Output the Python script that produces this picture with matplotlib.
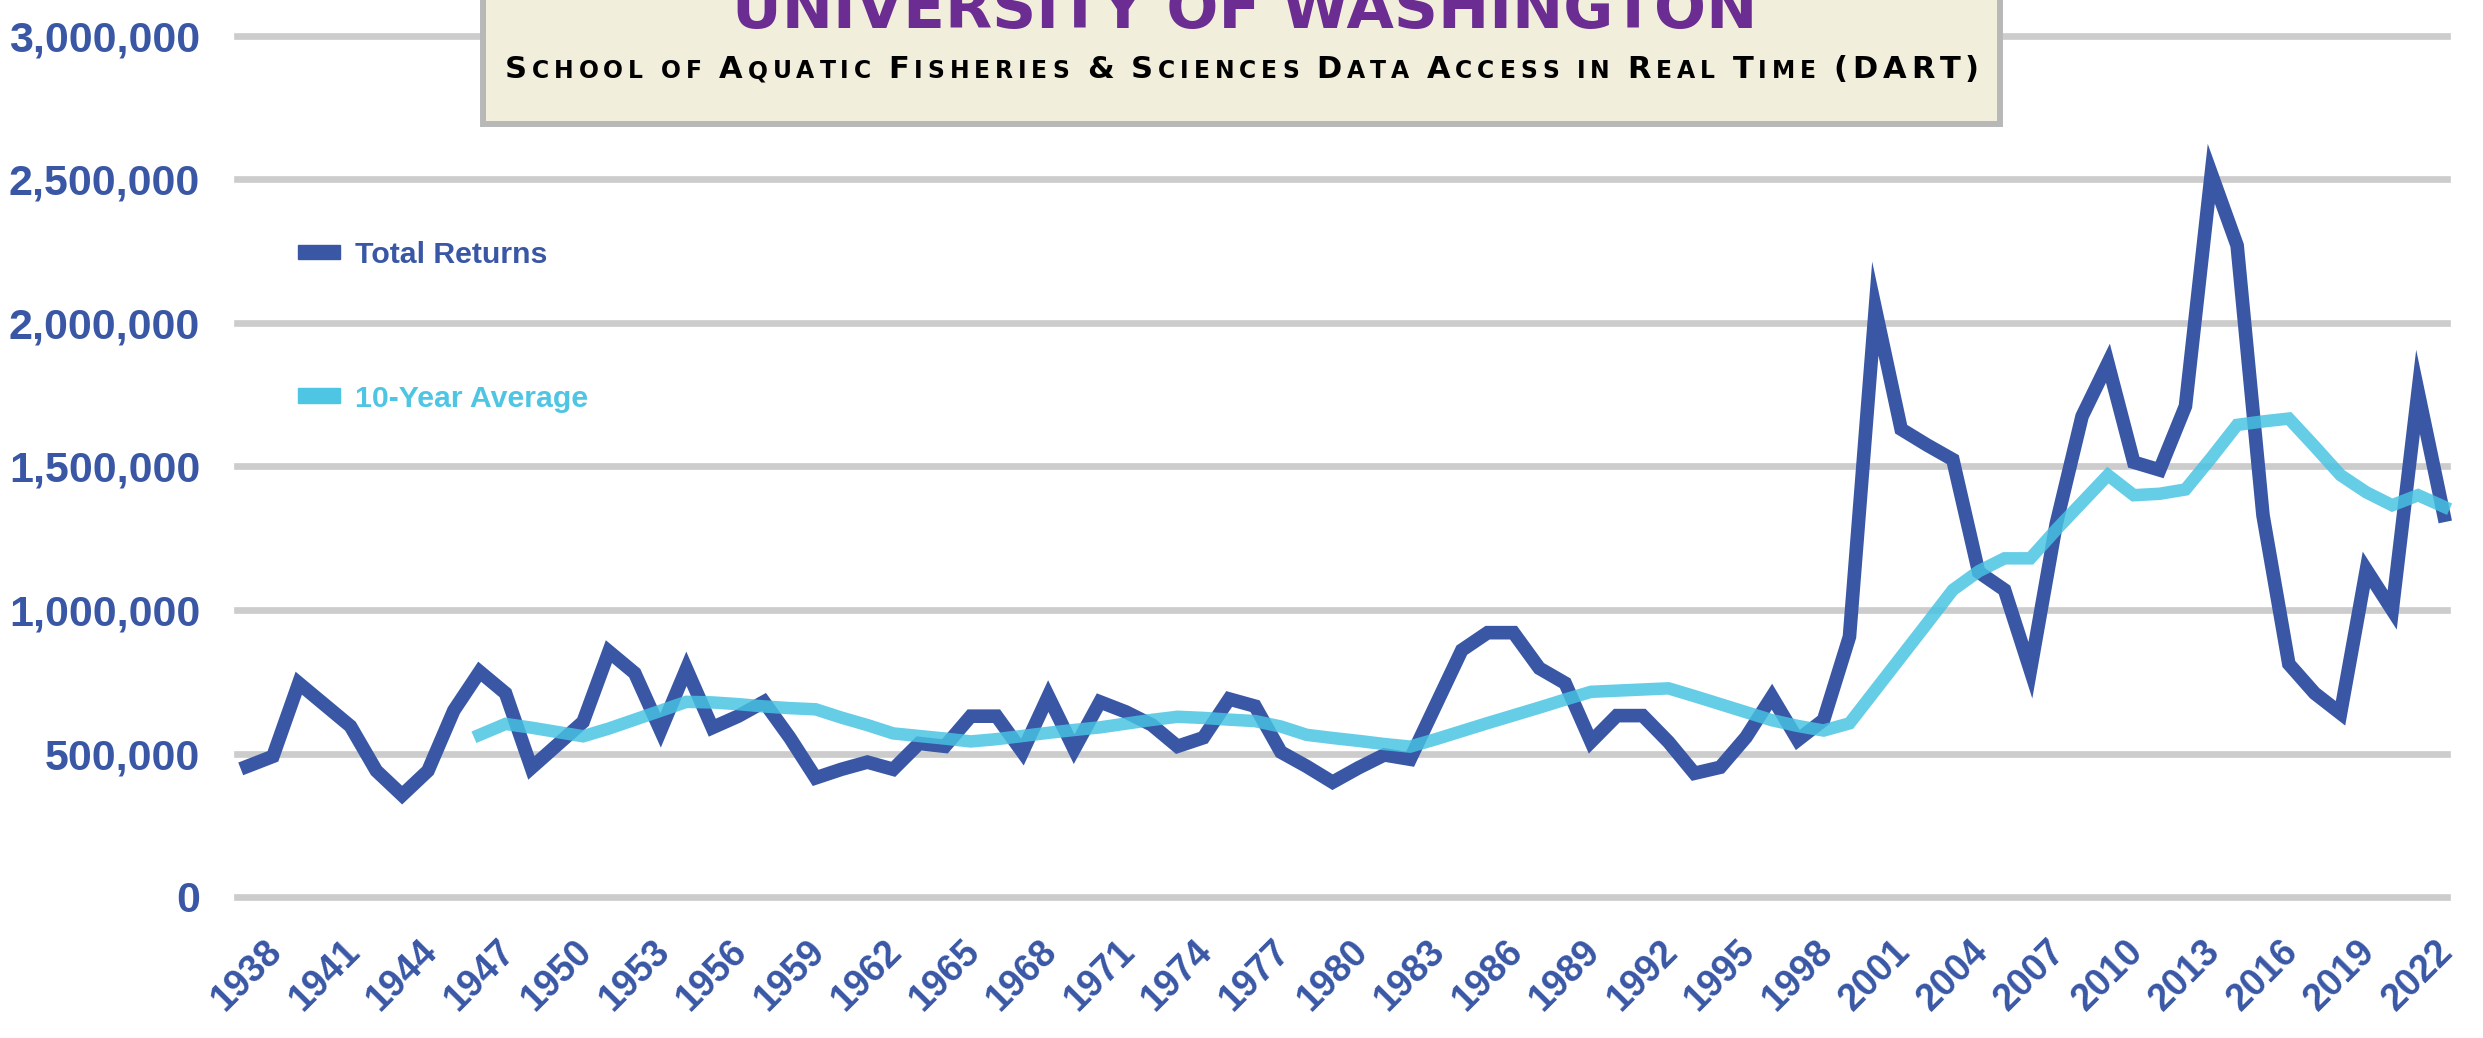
import matplotlib
matplotlib.use("Agg")
import matplotlib.pyplot as plt
from matplotlib.patches import Rectangle

# data
years = list(range(1938, 2024))
total_returns = [
    455000, 490000, 745000, 670000, 595000, 440000, 355000, 440000, 650000, 785000,
    710000, 450000, 530000, 610000, 855000, 780000, 580000, 795000, 590000, 630000,
    680000, 555000, 415000, 445000, 470000, 445000, 535000, 525000, 630000, 630000,
    505000, 700000, 515000, 680000, 645000, 600000, 525000, 555000, 690000, 665000,
    505000, 455000, 400000, 450000, 495000, 480000, 670000, 860000, 921000, 921000,
    797000, 745000, 541000, 632000, 632000, 540000, 431000, 452000, 557000, 698000,
    547000, 617000, 907000, 2050000, 1630000, 1575000, 1524000, 1132000, 1070000, 790000,
    1300000, 1675000, 1860000, 1515000, 1488000, 1710000, 2520000, 2270000, 1330000, 812000,
    710000, 640000, 1140000, 1000000, 1760000, 1330000,
]
avg_years = list(range(1947, 2024))
ten_year_avg = [
    565000, 603000, 590000, 575000, 560000, 587000, 618000, 649000, 680000, 678000,
    672000, 664000, 658000, 654000, 625000, 599000, 570000, 561000, 552000, 542000,
    550000, 561000, 572000, 582000, 591000, 604000, 617000, 628000, 624000, 618000,
    613000, 594000, 565000, 554000, 544000, 533000, 524000, 550000, 578000, 606000,
    633000, 660000, 688000, 715000, 719000, 723000, 727000, 700000, 672000, 644000,
    616000, 596000, 580000, 605000, 721000, 837000, 953000, 1070000, 1135000, 1180000,
    1180000, 1280000, 1375000, 1470000, 1400000, 1405000, 1420000, 1530000, 1645000, 1657000,
    1667000, 1570000, 1470000, 1410000, 1365000, 1400000, 1360000,
]
tick_years = list(range(1938, 2023, 3))
y_ticks = list(range(0, 3000001, 500000))

title = "UNIVERSITY OF WASHINGTON"
subtitle = "School of Aquatic Fisheries & Sciences Data Access in Real Time (DART)"
legend_labels = ["Total Returns", "10-Year Average"]

DARK = "#3957a5"
CYAN = "#47c3e3"
PURPLE = "#6b2d91"

W, H = 2483, 1038
fig = plt.figure(figsize=(W / 100, H / 100), dpi=100)

def fx(x):
    return x / W

def fy(y):
    return 1 - y / H

ax = fig.add_axes([fx(237), fy(897), fx(2447) - fx(237), fy(36) - fy(897)])
ax.plot(years, total_returns, color=DARK, lw=9.8, solid_joinstyle="miter",
        solid_capstyle="projecting", zorder=3, clip_on=False)
ax.plot(avg_years, ten_year_avg, color=CYAN, alpha=0.83, lw=9.0, solid_joinstyle="miter",
        solid_capstyle="projecting", zorder=4, clip_on=False)
ax.set_xlim(1937.61, 2023.12)
ax.set_ylim(0, 3000000)

ax.set_yticks(y_ticks)
ax.set_yticklabels([f"{v:,}" for v in y_ticks], fontfamily="Liberation Sans",
                   fontweight="bold", fontsize=31, color=DARK)
ax.set_xticks(tick_years)
ax.set_xticklabels([str(y) for y in tick_years], rotation=45, fontfamily="Liberation Sans",
                   fontweight="bold", fontsize=27, color=DARK)
ax.tick_params(axis="y", length=0, pad=26.6)
ax.tick_params(axis="x", length=0, pad=26)

ax.grid(axis="y", color="#cccccc", lw=4.8)
ax.grid(axis="x", visible=False)
ax.set_axisbelow(True)
for g in ax.get_ygridlines():
    g.set_clip_on(False)
for s in ax.spines.values():
    s.set_visible(False)

# title box
fig.add_artist(Rectangle((fx(483), fy(124)), fx(2000) - fx(483), fy(-30) - fy(124),
                         transform=fig.transFigure, facecolor="#f2eedc",
                         edgecolor="#b8b8b8", lw=4.3, zorder=5))

renderer = fig.canvas.get_renderer()
t = fig.text(fx(1244.5), fy(28), title, ha="center", va="baseline", color=PURPLE,
             fontsize=44, fontweight="bold", family="DejaVu Sans", zorder=6)
w = t.get_window_extent(renderer).width
t.set_fontsize(44 * 1027 / w)

# small caps subtitle, spread to the box width
big = 22
pieces = []
for ch in subtitle:
    if ch == " ":
        pieces.append(None)
    elif ch.islower():
        pieces.append(fig.text(0, fy(78), ch.upper(), va="baseline", color="black",
                               fontsize=big * 0.77, fontweight="bold",
                               family="DejaVu Sans", zorder=6))
    else:
        pieces.append(fig.text(0, fy(78), ch, va="baseline", color="black",
                               fontsize=big, fontweight="bold",
                               family="DejaVu Sans", zorder=6))
space_w = 8
widths = [space_w if p is None else p.get_window_extent(renderer).width for p in pieces]
gap = (1474 - sum(widths)) / (len(pieces) - 1)
x = 505
for p, wd in zip(pieces, widths):
    if p is not None:
        p.set_x(fx(x))
    x += wd + gap

# legend
fig.add_artist(Rectangle((fx(298), fy(259)), fx(340) - fx(298), fy(245) - fy(259),
                         transform=fig.transFigure, color=DARK))
fig.text(fx(355), fy(263), legend_labels[0], va="baseline", color=DARK, fontsize=21.8,
         fontweight="bold", family="Liberation Sans")
fig.add_artist(Rectangle((fx(298), fy(403)), fx(340) - fx(298), fy(388) - fy(403),
                         transform=fig.transFigure, color="#4ec6e3"))
fig.text(fx(355), fy(406.5), legend_labels[1], va="baseline", color="#4ec6e3", fontsize=21.8,
         fontweight="bold", family="Liberation Sans")

fig.savefig("out.png", dpi=100, facecolor="white")
